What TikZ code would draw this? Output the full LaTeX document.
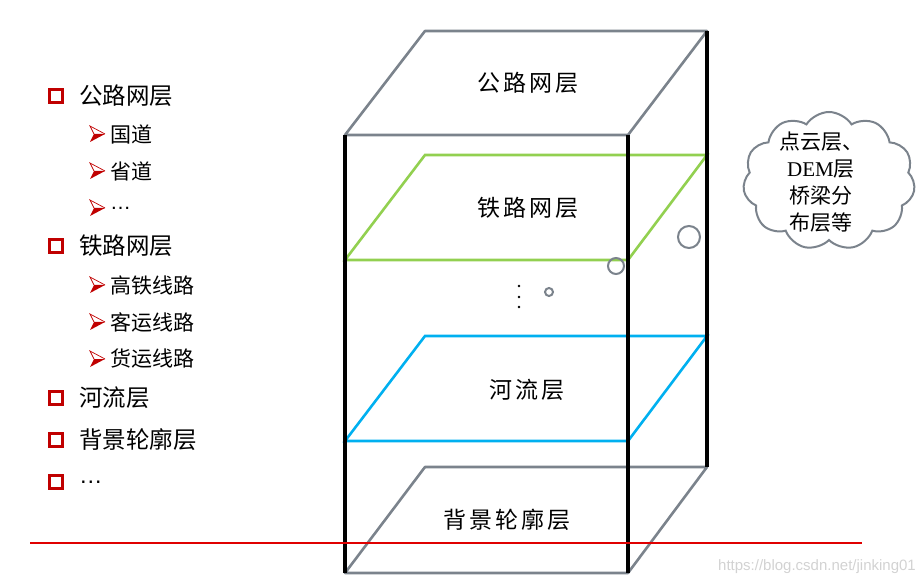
\documentclass[tikz,border=0pt]{standalone}
\usepackage{fontspec}
\setmainfont{Liberation Serif}
\newfontfamily\cjk{Noto Sans CJK SC}
\newfontfamily\cjkwide[LetterSpace=14]{Noto Sans CJK SC}
\newfontfamily\lsans{Liberation Sans}
\usepackage{tikz}
\usetikzlibrary{shapes.symbols}

\definecolor{edgegray}{HTML}{7B838C}
\definecolor{railgreen}{HTML}{92D050}
\definecolor{riverblue}{HTML}{00B0F0}
\definecolor{bulletred}{HTML}{C00000}
\definecolor{rulered}{HTML}{E00000}

\begin{document}
\begin{tikzpicture}[x=1pt,y=-1pt,
        edge/.style={draw=edgegray,line width=2.6pt,line join=round},
        post/.style={line width=3.8pt},
        bubble/.style={draw=edgegray,line width=2pt},
        box/.style={draw=bulletred,line width=2.8pt},
        item/.style={anchor=west,inner sep=0pt,font=\cjk\fontsize{23.5}{26}\selectfont},
        subitem/.style={anchor=west,inner sep=0pt,font=\cjk\fontsize{21}{24}\selectfont},
        layername/.style={inner sep=0pt,font=\cjkwide\fontsize{23}{26}\selectfont},
        pointer/.pic={
            \fill[bulletred] (-3,0) -- (8,0) -- (-7,8) -- cycle;
            \draw[bulletred,line width=0.7pt] (-3,0) -- (-7,-8) -- (8,0);
        }]

        \useasboundingbox (0,0) rectangle (921,585);

        % Main list
        \foreach \y/\name/\txt in {96/roads/公路网层,246/rails/铁路网层,398/rivers/河流层,440/outline/背景轮廓层} {
            \draw[box] (49.5,\y-6.5) rectangle (62.5,\y+6.5);
            \node[item] (\name) at (79,\y) {\txt};
        }
        \draw[box] (49.5,475.5) rectangle (62.5,488.5);
        \node[item] (more) at (79,482) {\lsans …};

        % Sub list
        \foreach \y/\name/\txt in {134/guodao/国道,171/shengdao/省道,285/gaotie/高铁线路,322/keyun/客运线路,359/huoyun/货运线路} {
            \pic at (97,\y) {pointer};
            \node[subitem] (\name) at (110,\y) {\txt};
        }
        \pic at (97,208) {pointer};
        \node[subitem] (roadmore) at (110,208) {\lsans …};

        % Cube corners
        \coordinate (tfl) at (345,135);
        \coordinate (tfr) at (628,135);
        \coordinate (tbr) at (707,31);
        \coordinate (tbl) at (425,31);
        \coordinate (bfl) at (345,573);
        \coordinate (bfr) at (628,573);
        \coordinate (bbr) at (707,467);
        \coordinate (bbl) at (425,467);

        % Top and bottom faces
        \draw[edge] (tfl) -- (tfr) -- (tbr) -- (tbl) -- cycle;
        \draw[edge] (bfl) -- (bfr) -- (bbr) -- (bbl) -- cycle;

        % Inner layers
        \draw[draw=railgreen,line width=2.6pt]
            (345,260) -- (628,260) -- (707,155) -- (425,155) -- cycle;
        \draw[draw=riverblue,line width=2.6pt]
            (345,441) -- (628,441) -- (707,336) -- (425,336) -- cycle;

        % Posts
        \draw[post] (tfl) -- (bfl);
        \draw[post] (tfr) -- (bfr);
        \draw[post] (tbr) -- (bbr);

        % Layer names
        \node[layername] (roadlayer) at (528,83) {公路网层};
        \node[layername] (raillayer) at (528,208) {铁路网层};
        \node[layername] (riverlayer) at (527,390) {河流层};
        \node[layername] (outlinelayer) at (507,520) {背景轮廓层};

        % Vertical dots
        \fill (519,286) circle (1.4);
        \fill (519,297) circle (1.4);
        \fill (519,307) circle (1.4);

        % Thought bubble
        \draw[bubble] (549,292) circle (4);
        \draw[bubble] (616,266) circle (8);
        \draw[bubble] (689,237) circle (11);

        \node[cloud,cloud puffs=11,cloud puff arc=115,draw=edgegray,line width=2pt,
              minimum width=172pt,minimum height=138pt] (cloud) at (829,181) {};
        \node[align=center,inner sep=0pt,font=\cjk\fontsize{21}{27}\selectfont] (cloudtext) at (821,182)
            {点云层、\\{\rmfamily DEM}层\\桥梁分\\布层等};

        % Red rule
        \draw[rulered,line width=1.1pt] (30,543) -- (862,543);

        % Watermark
        \node[anchor=east,inner sep=0pt,text=gray!35,font=\lsans\fontsize{15}{15}\selectfont] (mark) at (916,567)
            {https://blog.csdn.net/jinking01};

    \end{tikzpicture}
\end{document}
